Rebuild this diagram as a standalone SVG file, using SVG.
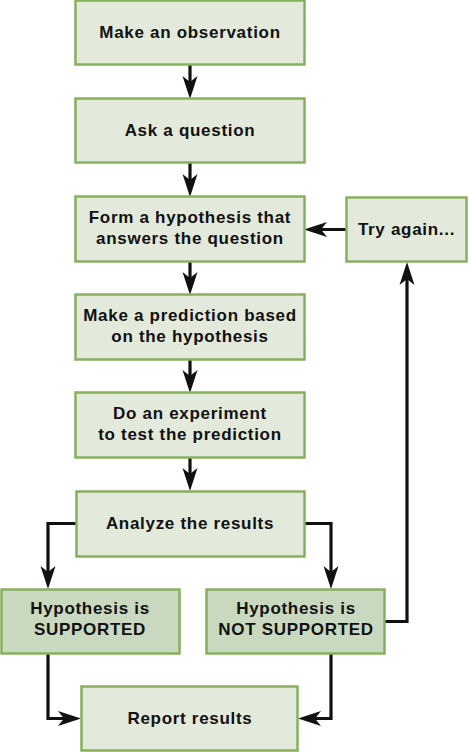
<svg xmlns="http://www.w3.org/2000/svg" width="469" height="752" viewBox="0 0 469 752">
<style>
.box{fill:#e3e9db;stroke:#87b05e;stroke-width:2.5}
.dark{fill:#c9d9bf;stroke:#87b05e;stroke-width:2.5}
.t{font-family:"Liberation Sans",Arial,sans-serif;font-weight:bold;font-size:17px;fill:#111;text-anchor:middle;letter-spacing:0.7px}
.c{fill:none;stroke:#111;stroke-width:3.2}
</style>
<defs>
<marker id="ah" markerUnits="userSpaceOnUse" viewBox="-24 -9 26 18" refX="-6" refY="0" markerWidth="26" markerHeight="18" orient="auto">
<path d="M0,0 L-23,-7.5 L-17,0 L-23,7.5 Z" fill="#111"/>
</marker>
</defs>
<rect width="469" height="752" fill="#fff"/>
<g id="connectors">
<path class="c" d="M190,65 V93" marker-end="url(#ah)"/>
<path class="c" d="M190,163 V191" marker-end="url(#ah)"/>
<path class="c" d="M190,261 V289" marker-end="url(#ah)"/>
<path class="c" d="M190,359 V387" marker-end="url(#ah)"/>
<path class="c" d="M190,457 V485" marker-end="url(#ah)"/>
<path class="c" d="M346,229.5 H310" marker-end="url(#ah)"/>
<path class="c" d="M76,523.5 H48 V583" marker-end="url(#ah)"/>
<path class="c" d="M304,523.5 H331 V583" marker-end="url(#ah)"/>
<path class="c" d="M385,621.5 H407 V268" marker-end="url(#ah)"/>
<path class="c" d="M48,654 V718.5 H75" marker-end="url(#ah)"/>
<path class="c" d="M331,654 V718.5 H304" marker-end="url(#ah)"/>
</g>
<g id="n1"><rect class="box" x="75.5" y="0.5" width="229" height="64"/><text class="t" x="190" y="38">Make an observation</text></g>
<g id="n2"><rect class="box" x="75.5" y="98.5" width="229" height="64"/><text class="t" x="190" y="136">Ask a question</text></g>
<g id="n3"><rect class="box" x="75.5" y="196.5" width="229" height="65"/><text class="t" x="190" y="223">Form a hypothesis that</text><text class="t" x="190" y="244">answers the question</text></g>
<g id="n4"><rect class="box" x="75.5" y="294.5" width="229" height="65"/><text class="t" x="190" y="321">Make a prediction based</text><text class="t" x="190" y="342">on the hypothesis</text></g>
<g id="n5"><rect class="box" x="75.5" y="392.5" width="229" height="65"/><text class="t" x="190" y="419">Do an experiment</text><text class="t" x="190" y="440">to test the prediction</text></g>
<g id="n6"><rect class="box" x="76.5" y="491.5" width="228" height="65"/><text class="t" x="190" y="529">Analyze the results</text></g>
<g id="n7"><rect class="dark" x="1.5" y="589.5" width="178" height="64"/><text class="t" x="90" y="614">Hypothesis is</text><text class="t" x="90" y="635">SUPPORTED</text></g>
<g id="n8"><rect class="dark" x="206.5" y="589.5" width="178" height="64"/><text class="t" x="296" y="614">Hypothesis is</text><text class="t" x="296" y="635">NOT SUPPORTED</text></g>
<g id="n9"><rect class="box" x="81.5" y="686.5" width="216" height="64"/><text class="t" x="190" y="724">Report results</text></g>
<g id="n10"><rect class="box" x="346.5" y="197.5" width="120" height="64"/><text class="t" x="406.5" y="235">Try again...</text></g>
</svg>
